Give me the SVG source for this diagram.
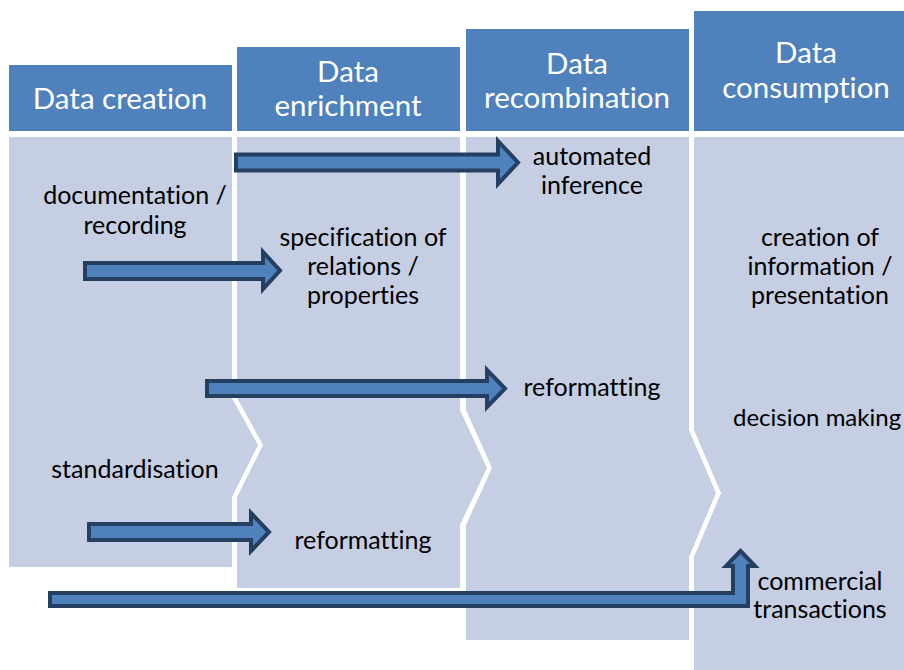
<svg xmlns="http://www.w3.org/2000/svg" width="904" height="670" viewBox="0 0 904 670">
  <style>
    .hdr { fill: #4F81BD; }
    .body { fill: #C5CEE3; }
    .ht { font-family: Lato, "Open Sans", sans-serif; font-size: 29.5px; fill: #FFFFFF; text-anchor: middle; font-variant-ligatures: none; }
    .bt { font-family: Lato, "Open Sans", sans-serif; font-size: 25px; fill: #000000; text-anchor: middle; font-variant-ligatures: none; }
    .arrow { fill: #4F81BD; stroke: #243F60; stroke-width: 4; stroke-linejoin: miter; }
  </style>
  <rect width="904" height="670" fill="#FFFFFF"/>

  <!-- Stage 1 -->
  <g id="stage-creation">
    <rect class="hdr" x="9" y="65" width="223" height="66"/>
    <text class="ht" x="120" y="109">Data creation</text>
    <path class="body" d="M9,137 H232 V398 L258,445 L232,497 V567 H9 Z"/>
    <text class="bt" x="135" y="204">documentation /</text>
    <text class="bt" x="135" y="234">recording</text>
    <text class="bt" x="135" y="478">standardisation</text>
  </g>

  <!-- Stage 2 -->
  <g id="stage-enrichment">
    <rect class="hdr" x="237" y="47" width="223" height="84"/>
    <text class="ht" x="348" y="82">Data</text>
    <text class="ht" x="348" y="116">enrichment</text>
    <path class="body" d="M237,137 H460 V410 L487,468 L460,525 V588 H237 V497 L263,445 L237,398 Z"/>
    <text class="bt" x="363" y="246">specification of</text>
    <text class="bt" x="363" y="275">relations /</text>
    <text class="bt" x="363" y="304">properties</text>
    <text class="bt" x="363" y="549">reformatting</text>
  </g>

  <!-- Stage 3 -->
  <g id="stage-recombination">
    <rect class="hdr" x="466" y="29" width="223" height="102"/>
    <text class="ht" x="577" y="74">Data</text>
    <text class="ht" x="577" y="108">recombination</text>
    <path class="body" d="M466,137 H689 V430 L716,493 L689,557 V640 H466 V525 L492,468 L466,410 Z"/>
    <text class="bt" x="592" y="165">automated</text>
    <text class="bt" x="592" y="194">inference</text>
    <text class="bt" x="592" y="396">reformatting</text>
  </g>

  <!-- Stage 4 -->
  <g id="stage-consumption">
    <rect class="hdr" x="694" y="11" width="215" height="120"/>
    <text class="ht" x="806" y="63">Data</text>
    <text class="ht" x="806" y="98">consumption</text>
    <path class="body" d="M694,137 H909 V670 H694 V557 L721,493 L694,430 Z"/>
    <text class="bt" x="820" y="246">creation of</text>
    <text class="bt" x="820" y="275">information /</text>
    <text class="bt" x="820" y="304">presentation</text>
    <text class="bt" x="733" y="426" style="text-anchor:start; font-size:24px">decision making</text>
    <text class="bt" x="820" y="590">commercial</text>
    <text class="bt" x="820" y="618">transactions</text>
  </g>

  <!-- Flow arrows -->
  <g id="connectors">
    <path class="arrow" d="M236,154.5 H498 V141 L518,162.5 L498,184 V170.5 H236 Z"/>
    <path class="arrow" d="M85,263 H263 V252 L280,270.5 L263,289 V279 H85 Z"/>
    <path class="arrow" d="M207,381 H487 V370 L505,388.5 L487,407 V396 H207 Z"/>
    <path class="arrow" d="M89,524 H251 V513 L269,532 L251,551 V540 H89 Z"/>
    <path class="arrow" d="M50,593 H733 V566 H726 L740.5,551 L755,566 H748 V606 H50 Z"/>
  </g>
</svg>
